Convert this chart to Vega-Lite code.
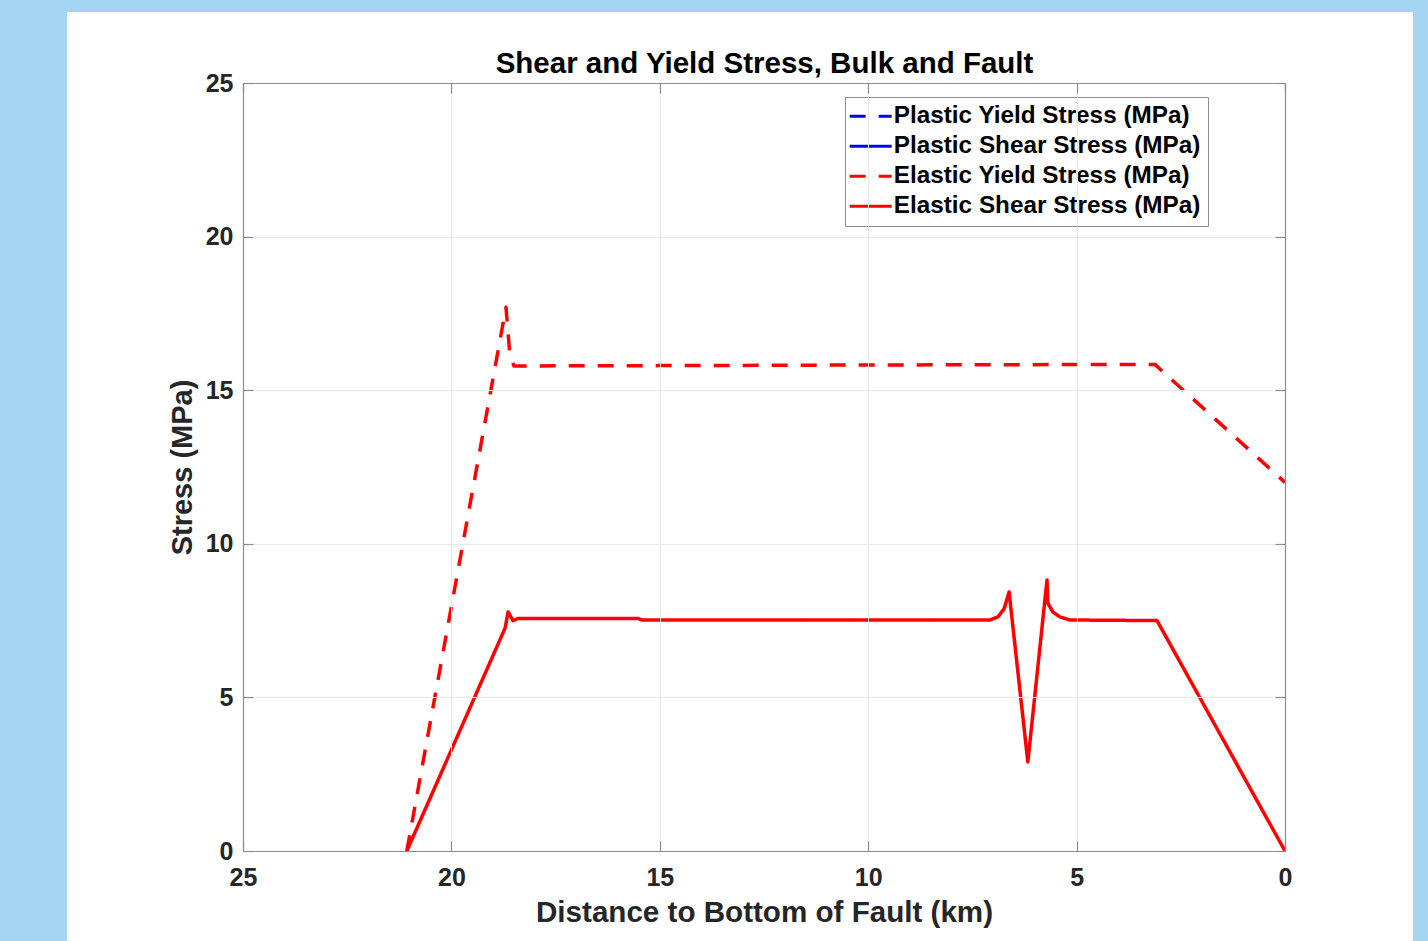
{
  "$schema": "https://vega.github.io/schema/vega-lite/v6.json",
  "width": 1042,
  "height": 768,
  "autosize": {"type": "none"},
  "padding": {"left": 243, "top": 83, "right": 143, "bottom": 90},
  "background": "#a3d4f2",
  "data": {
    "values": [
      {"series": "Elastic Yield Stress (MPa)", "distance": 21.07, "stress": 0.0},
      {"series": "Elastic Yield Stress (MPa)", "distance": 18.69, "stress": 17.7},
      {"series": "Elastic Yield Stress (MPa)", "distance": 18.6, "stress": 16.2},
      {"series": "Elastic Yield Stress (MPa)", "distance": 18.5, "stress": 15.79},
      {"series": "Elastic Yield Stress (MPa)", "distance": 15.0, "stress": 15.8},
      {"series": "Elastic Yield Stress (MPa)", "distance": 10.0, "stress": 15.82},
      {"series": "Elastic Yield Stress (MPa)", "distance": 3.12, "stress": 15.84},
      {"series": "Elastic Yield Stress (MPa)", "distance": 0.0, "stress": 12.0},
      {"series": "Elastic Shear Stress (MPa)", "distance": 21.07, "stress": 0.0},
      {"series": "Elastic Shear Stress (MPa)", "distance": 18.71, "stress": 7.26},
      {"series": "Elastic Shear Stress (MPa)", "distance": 18.64, "stress": 7.78},
      {"series": "Elastic Shear Stress (MPa)", "distance": 18.52, "stress": 7.5},
      {"series": "Elastic Shear Stress (MPa)", "distance": 18.4, "stress": 7.57},
      {"series": "Elastic Shear Stress (MPa)", "distance": 15.52, "stress": 7.57},
      {"series": "Elastic Shear Stress (MPa)", "distance": 15.43, "stress": 7.52},
      {"series": "Elastic Shear Stress (MPa)", "distance": 7.08, "stress": 7.52},
      {"series": "Elastic Shear Stress (MPa)", "distance": 6.89, "stress": 7.62},
      {"series": "Elastic Shear Stress (MPa)", "distance": 6.74, "stress": 7.88},
      {"series": "Elastic Shear Stress (MPa)", "distance": 6.62, "stress": 8.43},
      {"series": "Elastic Shear Stress (MPa)", "distance": 6.17, "stress": 2.9},
      {"series": "Elastic Shear Stress (MPa)", "distance": 5.71, "stress": 8.82},
      {"series": "Elastic Shear Stress (MPa)", "distance": 5.69, "stress": 8.07},
      {"series": "Elastic Shear Stress (MPa)", "distance": 5.57, "stress": 7.78},
      {"series": "Elastic Shear Stress (MPa)", "distance": 5.4, "stress": 7.62},
      {"series": "Elastic Shear Stress (MPa)", "distance": 5.16, "stress": 7.52},
      {"series": "Elastic Shear Stress (MPa)", "distance": 3.07, "stress": 7.5},
      {"series": "Elastic Shear Stress (MPa)", "distance": 0.0, "stress": 0.0}
    ]
  },
  "layer": [
    {
      "mark": {"type": "rect", "fill": "#ffffff", "stroke": null},
      "encoding": {
        "x": {
          "datum": 29.22, "type": "quantitative",
          "scale": {"domain": [0, 25], "reverse": true, "nice": false, "zero": false},
          "axis": {
            "orient": "top", "labels": false, "grid": false, "zindex": 1,
            "values": [0, 5, 10, 15, 20, 25],
            "title": "Shear and Yield Stress, Bulk and Fault",
            "titleColor": "#000000",
            "titleFontSize": 29.5,
            "titlePadding": 4
          }
        },
        "x2": {"datum": -3.07},
        "y": {
          "datum": 27.31, "type": "quantitative",
          "scale": {"domain": [0, 25], "nice": false, "zero": false},
          "axis": {"orient": "right", "labels": false, "title": null, "grid": false, "zindex": 1, "values": [0, 5, 10, 15, 20, 25]}
        },
        "y2": {"datum": -2.93}
      }
    },
    {
      "mark": {"type": "line", "strokeWidth": 3.5, "strokeJoin": "round", "strokeCap": "butt"},
      "encoding": {
        "x": {
          "field": "distance", "type": "quantitative",
          "scale": {"domain": [0, 25], "reverse": true, "nice": false, "zero": false},
          "axis": {
            "orient": "bottom",
            "title": "Distance to Bottom of Fault (km)",
            "titleFontSize": 29.6,
            "values": [0, 5, 10, 15, 20, 25],
            "grid": true,
            "zindex": 1,
            "labelPadding": 24,
            "titlePadding": 8
          }
        },
        "y": {
          "field": "stress", "type": "quantitative",
          "scale": {"domain": [0, 25], "nice": false, "zero": false},
          "axis": {
            "orient": "left",
            "title": "Stress (MPa)",
            "values": [0, 5, 10, 15, 20, 25],
            "grid": true,
            "zindex": 1,
            "labelPadding": 20,
            "titlePadding": 8
          }
        },
        "color": {
          "field": "series", "type": "nominal",
          "scale": {
            "domain": ["Plastic Yield Stress (MPa)", "Plastic Shear Stress (MPa)", "Elastic Yield Stress (MPa)", "Elastic Shear Stress (MPa)"],
            "range": ["#0000ff", "#0000ff", "#ff0000", "#ff0000"]
          },
          "legend": {
            "title": null,
            "orient": "none",
            "legendX": 602,
            "legendY": 14,
            "fillColor": "#ffffff",
            "strokeColor": "#8c8c8c",
            "padding": 7,
            "symbolType": "M-2,0H2",
            "symbolSize": 441,
            "symbolOffset": 6.5,
            "symbolStrokeWidth": 3,
            "labelFont": "Liberation Sans",
            "labelFontSize": 24.3,
            "labelFontWeight": "bold",
            "labelColor": "#000000",
            "labelOffset": 11,
            "labelLimit": 400,
            "rowPadding": 5
          }
        },
        "strokeDash": {
          "field": "series", "type": "nominal",
          "scale": {
            "domain": ["Plastic Yield Stress (MPa)", "Plastic Shear Stress (MPa)", "Elastic Yield Stress (MPa)", "Elastic Shear Stress (MPa)"],
            "range": [[16, 13], [1, 0], [16, 13], [1, 0]]
          },
          "legend": {
            "title": null,
            "orient": "none",
            "legendX": 602,
            "legendY": 14,
            "fillColor": "#ffffff",
            "strokeColor": "#8c8c8c",
            "padding": 7,
            "symbolType": "M-2,0H2",
            "symbolSize": 441,
            "symbolOffset": 6.5,
            "symbolStrokeWidth": 3,
            "labelFont": "Liberation Sans",
            "labelFontSize": 24.3,
            "labelFontWeight": "bold",
            "labelColor": "#000000",
            "labelOffset": 11,
            "labelLimit": 400,
            "rowPadding": 5
          }
        }
      }
    }
  ],
  "resolve": {"axis": {"x": "independent", "y": "independent"}},
  "config": {
    "view": {"stroke": null},
    "axis": {
      "domainColor": "#8c8c8c",
      "domainWidth": 1.2,
      "tickColor": "#8c8c8c",
      "tickWidth": 1.2,
      "tickSize": -10,
      "gridColor": "#e8e8e8",
      "gridWidth": 1,
      "labelFont": "Liberation Sans",
      "labelFontSize": 25,
      "labelFontWeight": "bold",
      "labelColor": "#262626",
      "labelFlush": false,
      "labelOverlap": false,
      "titleFont": "Liberation Sans",
      "titleFontSize": 29,
      "titleFontWeight": "bold",
      "titleColor": "#262626"
    }
  }
}
